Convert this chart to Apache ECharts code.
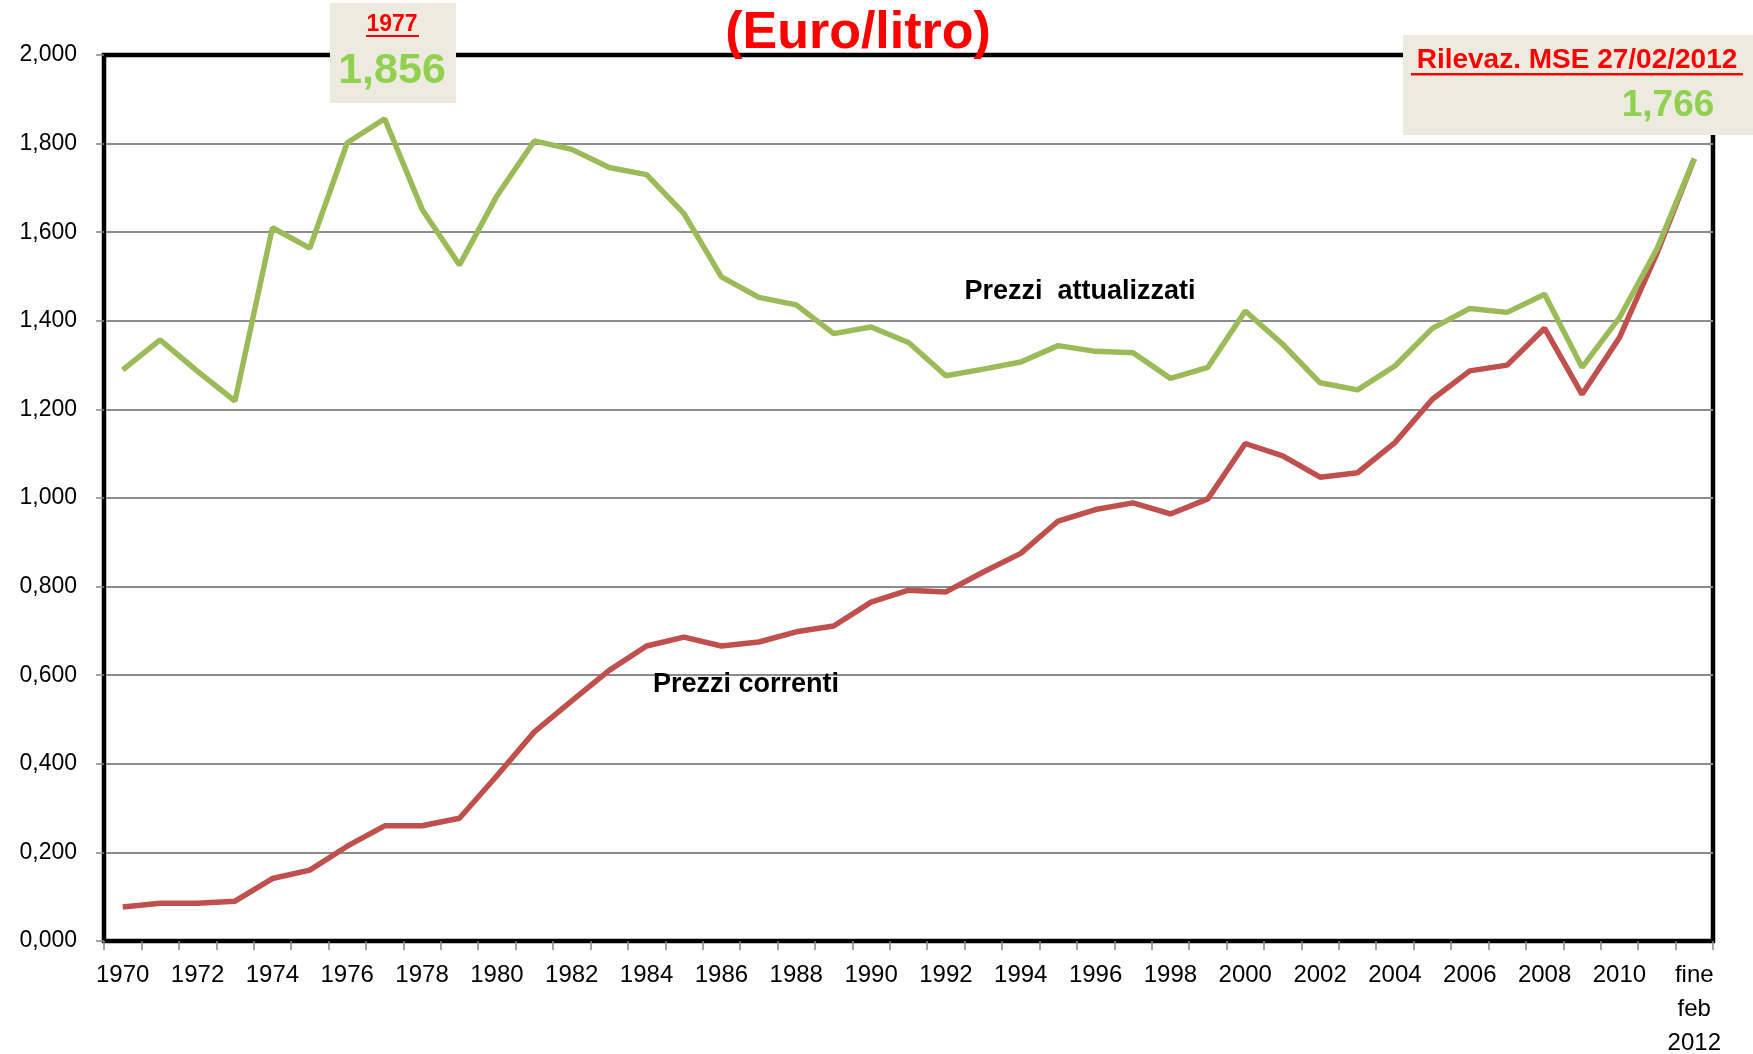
<!DOCTYPE html>
<html>
<head>
<meta charset="utf-8">
<script src="https://cdn.jsdelivr.net/npm/echarts@6/dist/echarts.min.js"></script>
<style>
  html, body {margin: 0; padding: 0; background: #fff;}
  #chart {width: 1753px; height: 1054px;}
</style>
</head>
<body>
<div id="chart"></div>
<script>
// Prezzo benzina 1970 - feb 2012, prezzi correnti e attualizzati (Euro/litro)

const years = [
  "1970", "1971", "1972", "1973", "1974", "1975", "1976", "1977", "1978", "1979",
  "1980", "1981", "1982", "1983", "1984", "1985", "1986", "1987", "1988", "1989",
  "1990", "1991", "1992", "1993", "1994", "1995", "1996", "1997", "1998", "1999",
  "2000", "2001", "2002", "2003", "2004", "2005", "2006", "2007", "2008", "2009",
  "2010", "2011", "fine\nfeb\n2012",
]

const prezziAttualizzati = [
  1.289, 1.357, 1.286, 1.219, 1.610, 1.564, 1.802, 1.856, 1.652, 1.526,
  1.682, 1.806, 1.787, 1.746, 1.730, 1.642, 1.499, 1.453, 1.436, 1.371,
  1.386, 1.351, 1.276, 1.291, 1.307, 1.344, 1.331, 1.328, 1.270, 1.295,
  1.422, 1.347, 1.260, 1.244, 1.298, 1.383, 1.428, 1.419, 1.460, 1.295,
  1.407, 1.562, 1.766,
]

const prezziCorrenti = [
  0.077, 0.085, 0.085, 0.090, 0.141, 0.160, 0.214, 0.260, 0.260, 0.277,
  0.373, 0.472, 0.542, 0.611, 0.666, 0.686, 0.666, 0.675, 0.698, 0.711,
  0.765, 0.792, 0.788, 0.833, 0.875, 0.948, 0.974, 0.989, 0.964, 0.998,
  1.123, 1.095, 1.047, 1.057, 1.125, 1.223, 1.287, 1.300, 1.383, 1.234,
  1.362, 1.552, 1.766,
]

const FONT = "'Liberation Sans', Arial, sans-serif"

const chart = echarts.init(document.getElementById("chart"), null, {renderer: "canvas"})

chart.setOption({
  backgroundColor: "#ffffff",
  animation: false,
  grid: {
    left: 104, right: 40, top: 55, bottom: 113,
    outerBoundsMode: "none",
    show: true, borderColor: "#000", borderWidth: 4.5,
  },
  xAxis: {
    type: "category",
    data: years,
    boundaryGap: true,
    axisLine: {lineStyle: {color: "#000", width: 3}},
    axisTick: {show: true, interval: 0, length: 9, lineStyle: {color: "#888", width: 1.5}},
    axisLabel: {
      interval: 1,
      color: "#000",
      fontFamily: FONT,
      fontSize: 24,
      lineHeight: 34,
      margin: 17,
    },
    splitLine: {show: false},
  },
  yAxis: {
    type: "value",
    min: 0,
    max: 2,
    interval: 0.2,
    axisLine: {show: true, lineStyle: {color: "#000", width: 3}},
    axisTick: {show: true, length: 8, lineStyle: {color: "#888", width: 1.5}},
    axisLabel: {
      color: "#000",
      fontFamily: FONT,
      fontSize: 23,
      margin: 27,
      formatter: v => v.toFixed(3).replace(".", ","),
    },
    splitLine: {showMinLine: false, showMaxLine: false, lineStyle: {color: "#8c8c8c", width: 2}},
  },
  series: [
    {
      name: "Prezzi attualizzati",
      type: "line",
      data: prezziAttualizzati,
      symbol: "none",
      smooth: false,
      lineStyle: {color: "#9BBB59", width: 5.5},
      itemStyle: {color: "#9BBB59"},
      z: 3,
    },
    {
      name: "Prezzi correnti",
      type: "line",
      data: prezziCorrenti,
      symbol: "none",
      smooth: false,
      lineStyle: {color: "#C0504D", width: 5.5},
      itemStyle: {color: "#C0504D"},
      z: 2,
    },
  ],
  graphic: [
    {
      type: "text", z: 10, x: 858, y: 34,
      style: {
        text: "(Euro/litro)",
        fill: "#FF0000", font: `bold 52px ${FONT}`,
        align: "center", verticalAlign: "middle",
      },
    },
    {
      type: "rect", z: 10,
      shape: {x: 330, y: 3, width: 126, height: 100},
      style: {fill: "#EDEBE0"},
    },
    {
      type: "text", z: 11, x: 392, y: 25,
      style: {text: "1977", fill: "#FF0000", font: `bold 23px ${FONT}`, align: "center", verticalAlign: "middle"},
    },
    {
      type: "rect", z: 11,
      shape: {x: 366, y: 35, width: 53, height: 2},
      style: {fill: "#FF0000"},
    },
    {
      type: "text", z: 11, x: 392, y: 71,
      style: {text: "1,856", fill: "#92D050", font: `bold 43px ${FONT}`, align: "center", verticalAlign: "middle"},
    },
    {
      type: "rect", z: 10,
      shape: {x: 1403, y: 35, width: 350, height: 100},
      style: {fill: "#EDEBE0"},
    },
    {
      type: "text", z: 11, x: 1577, y: 60,
      style: {text: "Rilevaz. MSE 27/02/2012", fill: "#FF0000", font: `bold 28px ${FONT}`, align: "center", verticalAlign: "middle"},
    },
    {
      type: "rect", z: 11,
      shape: {x: 1411, y: 73, width: 332, height: 2.5},
      style: {fill: "#FF0000"},
    },
    {
      type: "text", z: 11, x: 1668, y: 106,
      style: {text: "1,766", fill: "#92D050", font: `bold 37px ${FONT}`, align: "center", verticalAlign: "middle"},
    },
    {
      type: "text", z: 11, x: 1080, y: 292,
      style: {text: "Prezzi  attualizzati", fill: "#000", font: `bold 27px ${FONT}`, align: "center", verticalAlign: "middle"},
    },
    {
      type: "text", z: 11, x: 746, y: 685,
      style: {text: "Prezzi correnti", fill: "#000", font: `bold 27px ${FONT}`, align: "center", verticalAlign: "middle"},
    },
  ],
})
</script>
</body>
</html>
